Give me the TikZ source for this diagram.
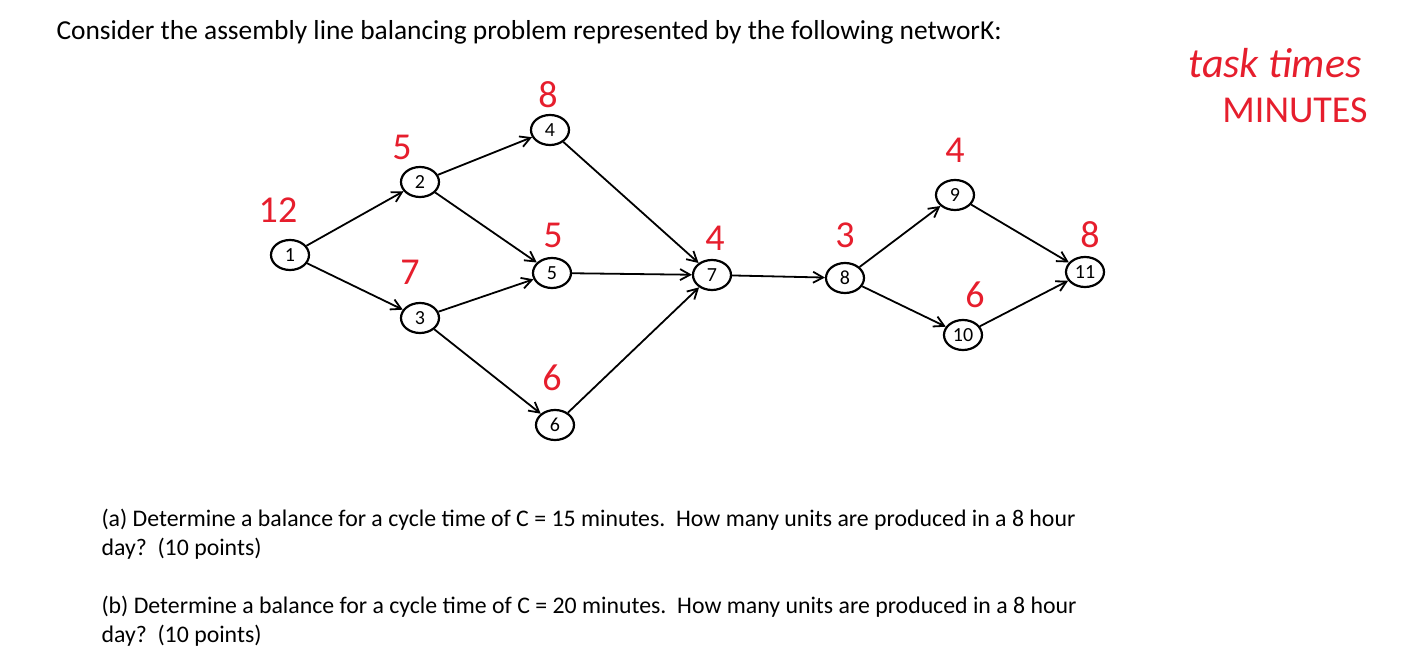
\documentclass[tikz,border=0pt]{standalone}
\usepackage{fontspec}
\setmainfont{Carlito}
\usetikzlibrary{arrows.meta,shapes.geometric}
\definecolor{hand}{RGB}{230,30,45}
\tikzset{txt/.style={anchor=west,font=\fontsize{23.8}{29}\selectfont}}
\begin{document}
\begin{tikzpicture}[x=1pt,y=-1pt]
\useasboundingbox (0,0) rectangle (1409,668);
\node[txt,font=\fontsize{27.4}{32}\selectfont] (title) at (53,32) {Consider the assembly line balancing problem represented by the following networK:};
\node[text=hand,font=\itshape\fontsize{42}{42}\selectfont] (tt) at (1275,63) {task times};
\node[text=hand,font=\fontsize{38}{38}\selectfont] (mn) at (1295,110) {MINUTES};
\foreach \i/\px/\py in {1/290/255,2/420/182,3/420/318,4/550/130,5/552/273,6/555/425,7/712/275,8/845/278,9/955/195,10/963/335,11/1085/272}
  \node[draw,line width=2.2pt,ellipse,minimum width=38pt,minimum height=30pt,inner sep=0pt,font=\fontsize{20}{20}\selectfont] (n\i) at (\px,\py) {\i};
\foreach \i/\v/\px/\py in {1/12/278/210,2/5/402/147,3/7/410/272,4/8/548/95,5/5/553/235,6/6/552/378,7/4/715/238,8/3/845/235,9/4/955/150,10/6/975/295,11/8/1090/235}
  \node[text=hand,font=\fontsize{38}{38}\selectfont] (w\i) at (\px,\py) {\v};
\foreach \a/\b in {1/2,1/3,2/4,2/5,3/5,3/6,4/7,5/7,6/7,7/8,8/9,8/10,9/11,10/11}
  \draw[line width=1.8pt,-{Straight Barb[length=10pt,width=11pt]}] (n\a) -- (n\b);
\node[txt] (a) at (98,535) {\begin{tabular}{@{}l@{}}(a) Determine a balance for a cycle time of C = 15 minutes.\ \ How many units are produced in a 8 hour\\ day?\ \ (10 points)\end{tabular}};
\node[txt] (b) at (98,622) {\begin{tabular}{@{}l@{}}(b) Determine a balance for a cycle time of C = 20 minutes.\ \ How many units are produced in a 8 hour\\ day?\ \ (10 points)\end{tabular}};
\end{tikzpicture}
\end{document}
